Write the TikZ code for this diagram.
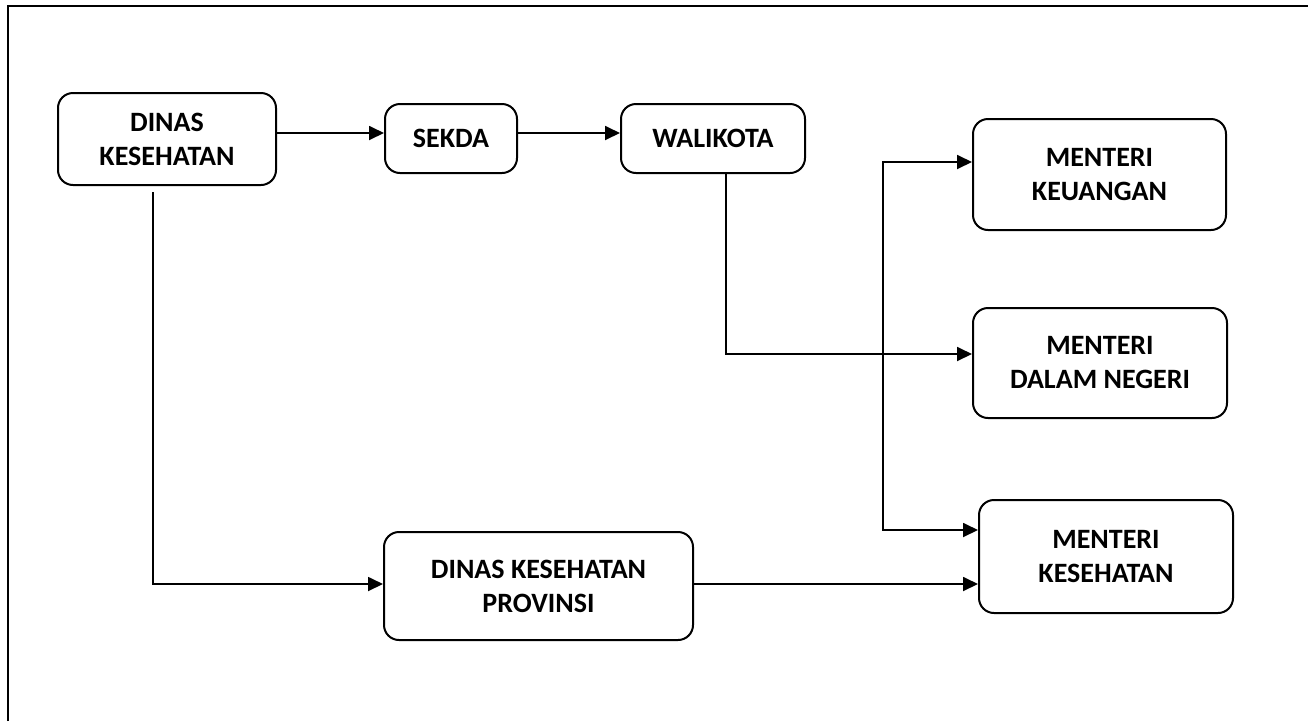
\documentclass[tikz,border=0pt]{standalone}
\usepackage{fontspec}
\setmainfont{Carlito}
\usetikzlibrary{arrows.meta}
\begin{document}
\begin{tikzpicture}[x=1pt,y=-1pt,
  box/.style={draw,line width=2pt,rounded corners=15pt,align=center,inner sep=0pt,
    font=\fontsize{28}{34}\selectfont\bfseries},
  arr/.style={line width=1.8pt,-{Triangle[length=15pt,width=14pt]}},
  biarr/.style={line width=1.8pt,{Triangle[length=15pt,width=14pt]}-{Triangle[length=15pt,width=14pt]}},
  frame/.style={line width=2.2pt}]
\useasboundingbox (0,0) rectangle (1308,721);
\fill[white] (0,0) rectangle (1308,721);
\draw[frame] (8,721) -- (8,6) -- (1308,6);

\node[box,minimum width=218pt,minimum height=92pt] (dk) at (167,139) {DINAS\\KESEHATAN};
\node[box,minimum width=132pt,minimum height=69pt] (sekda) at (451,138.5) {SEKDA};
\node[box,minimum width=184pt,minimum height=69pt] (wali) at (713,138.5) {WALIKOTA};
\node[box,minimum width=253pt,minimum height=111pt] (mk) at (1099.5,174.5) {MENTERI\\KEUANGAN};
\node[box,minimum width=254pt,minimum height=110pt] (mdn) at (1100,363) {MENTERI\\DALAM NEGERI};
\node[box,minimum width=254pt,minimum height=113pt] (mkes) at (1106,556.5) {MENTERI\\KESEHATAN};
\node[box,minimum width=309pt,minimum height=108pt] (prov) at (538.5,586) {DINAS KESEHATAN\\PROVINSI};

\coordinate (ya) at (0,133);
\coordinate (wd) at (726,354);
\coordinate (vt) at (883,162);
\coordinate (vb) at (883,530);
\coordinate (dd) at (153,192);
\coordinate (dc) at (153,584);

\draw[arr] (dk.east |- ya) -- (sekda.west |- ya);
\draw[arr] (sekda.east |- ya) -- (wali.west |- ya);
\draw[arr] (wali.south -| wd) -- (wd) -- (mdn.west |- wd);
\draw[biarr] (mk.west |- vt) -- (vt) -- (vb) -- (mkes.west |- vb);
\draw[arr] (dd) -- (dc) -- (prov.west |- dc);
\draw[arr] (prov.east |- dc) -- (mkes.west |- dc);
\end{tikzpicture}
\end{document}
